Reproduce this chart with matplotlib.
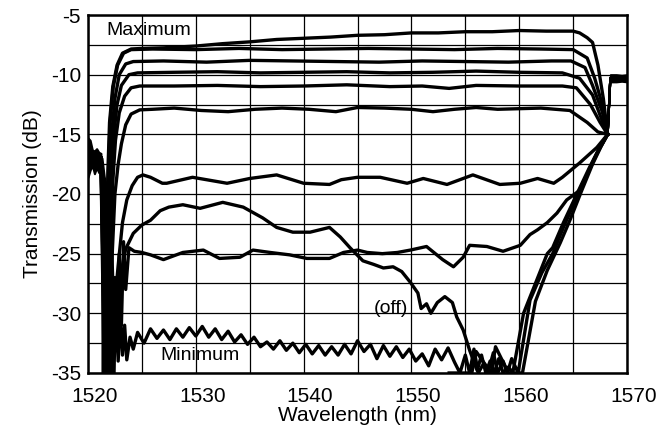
import matplotlib
matplotlib.use("Agg")
import matplotlib.pyplot as plt
from matplotlib.transforms import ScaledTranslation

plt.rcParams['font.family'] = ['Liberation Sans', 'DejaVu Sans']
plt.rcParams['axes.unicode_minus'] = False

# shared out-of-band pieces (left noise floor and right step)
left_wl = [1520.0, 1520.2, 1520.4, 1520.6, 1520.8, 1521.0, 1521.2]
left_hi = [-15.3, -15.5, -16.3, -16.4, -16.2, -16.5, -16.6]
left_lo = [-18.6, -18.0, -17.6, -18.3, -17.8, -18.2, -18.0]
block_wl = [1521.3, 1521.5, 1521.9, 1522.2, 1522.4]
block_hi = [-17.0, -18.5, -20.5, -24.0, -30.0]
block_lo = [-35.0, -35.0, -35.0, -35.0, -35.0]
step_wl = [1568.45, 1569.0, 1569.5, 1570.0]
step_hi = [-10.0, -10.0, -10.05, -10.0]
step_lo = [-10.6, -10.6, -10.55, -10.6]

# Maximum
wl_a = [1521.2, 1521.5, 1521.7, 1521.85, 1522.0, 1522.3, 1522.7, 1523.2, 1524.0, 1525.0, 1527.0,
        1530.0, 1532.5, 1535.0, 1537.5, 1540.0, 1542.5, 1545.0, 1547.5, 1550.0, 1552.5, 1555.0,
        1557.5, 1560.0, 1562.5, 1565.0, 1565.6, 1566.3, 1566.8, 1567.3, 1567.8, 1568.2]
db_a = [-17.0, -35.0, -25.0, -18.0, -14.0, -11.0, -9.2, -8.2, -7.85, -7.8, -7.75,
        -7.6, -7.4, -7.25, -7.05, -6.95, -6.85, -6.7, -6.65, -6.5, -6.5, -6.4,
        -6.4, -6.3, -6.35, -6.35, -6.5, -6.9, -7.3, -9.2, -12.0, -15.0]

wl_b = [1521.2, 1521.55, 1521.75, 1521.9, 1522.05, 1522.35, 1522.75, 1523.3, 1524.0, 1526.0,
        1530.0, 1534.0, 1538.0, 1542.0, 1546.0, 1550.0, 1554.0, 1558.0, 1562.0, 1565.0,
        1566.3, 1567.0, 1567.7, 1568.2]
db_b = [-17.0, -35.0, -25.0, -18.0, -14.0, -11.0, -9.2, -8.2, -7.9, -7.85,
        -7.9, -7.8, -7.9, -7.85, -7.8, -7.85, -7.9, -7.8, -7.85, -7.9,
        -8.6, -10.3, -12.5, -15.0]

wl_c = [1521.2, 1521.6, 1521.85, 1522.0, 1522.2, 1522.5, 1522.9, 1523.5, 1524.2, 1527.0,
        1531.0, 1535.0, 1539.0, 1543.0, 1547.0, 1551.0, 1555.0, 1559.0, 1563.0, 1564.8,
        1566.1, 1566.8, 1567.7, 1568.2]
db_c = [-17.0, -35.0, -25.0, -19.0, -15.0, -12.0, -10.0, -9.1, -8.9, -8.85,
        -8.95, -8.8, -8.85, -8.9, -8.95, -8.85, -8.9, -8.95, -8.85, -8.85,
        -9.4, -10.9, -13.1, -15.0]

wl_d = [1521.2, 1521.7, 1521.95, 1522.15, 1522.4, 1522.7, 1523.1, 1523.8, 1524.6, 1528.0,
        1532.0, 1536.0, 1540.0, 1544.0, 1548.0, 1552.0, 1556.0, 1560.0, 1564.0, 1565.6,
        1566.8, 1567.5, 1568.2]
db_d = [-17.0, -35.0, -25.0, -19.0, -15.0, -12.5, -10.9, -10.0, -9.85, -9.8,
        -9.75, -9.85, -9.8, -9.75, -9.85, -9.8, -9.7, -9.8, -9.85, -10.3,
        -11.7, -13.4, -15.0]

wl_e = [1521.2, 1521.8, 1522.05, 1522.3, 1522.55, 1522.9, 1523.4, 1524.0, 1524.8, 1528.0,
        1532.0, 1536.0, 1540.0, 1544.0, 1548.0, 1551.0, 1553.5, 1556.0, 1560.0, 1564.0,
        1565.3, 1566.6, 1567.5, 1568.2]
db_e = [-17.0, -35.0, -25.0, -19.0, -15.5, -13.2, -11.8, -11.1, -10.95, -10.95,
        -10.9, -11.0, -10.95, -10.85, -11.0, -10.95, -11.15, -10.9, -10.95, -10.95,
        -11.1, -12.5, -14.0, -15.0]

wl_f = [1521.2, 1521.9, 1522.2, 1522.5, 1522.8, 1523.1, 1523.5, 1524.0, 1524.8, 1526.0,
        1528.0, 1530.5, 1533.0, 1535.5, 1538.0, 1540.5, 1543.0, 1545.0, 1547.5, 1550.0,
        1552.0, 1554.0, 1556.0, 1558.0, 1560.0, 1562.0, 1564.7, 1566.3, 1567.3, 1568.2]
db_f = [-17.0, -35.0, -26.0, -20.0, -17.5, -15.8, -14.2, -13.3, -12.95, -12.9,
        -12.8, -13.0, -13.1, -12.9, -12.8, -12.9, -13.1, -12.75, -12.8, -12.9,
        -13.1, -12.9, -12.75, -12.9, -12.85, -12.8, -13.0, -14.0, -14.8, -15.0]

wl_g = [1521.2, 1522.0, 1522.4, 1522.8, 1523.2, 1523.6, 1524.1, 1524.6, 1525.1, 1525.8,
        1526.9, 1527.3, 1529.7, 1532.9, 1535.0, 1537.5, 1540.0, 1542.4, 1543.5, 1545.0,
        1547.1, 1549.6, 1551.1, 1553.3, 1555.7, 1558.2, 1560.1, 1561.7, 1563.2, 1564.0,
        1565.6, 1567.2, 1568.2]
db_g = [-17.0, -35.0, -30.0, -26.0, -22.4, -20.5, -19.3, -18.6, -18.4, -18.6,
        -19.1, -19.1, -18.6, -19.1, -18.7, -18.4, -19.1, -19.2, -18.8, -18.6,
        -18.6, -19.1, -18.7, -19.2, -18.4, -19.2, -19.1, -18.7, -19.1, -18.6,
        -17.4, -16.1, -15.0]

# (off) trace
wl_h = [1521.2, 1522.2, 1522.6, 1523.0, 1523.5, 1524.2, 1525.0, 1525.8, 1526.7, 1527.5,
        1528.8, 1530.4, 1532.5, 1534.4, 1536.2, 1537.5, 1539.0, 1540.6, 1542.4, 1543.4,
        1544.3, 1545.5, 1546.5, 1547.4, 1548.3, 1549.1, 1549.9, 1550.6, 1550.9, 1551.4,
        1551.8, 1552.4, 1553.1, 1553.8, 1554.2, 1554.8, 1555.4, 1556.1, 1556.5, 1556.9,
        1557.3, 1557.7, 1558.1, 1558.5, 1559.0, 1559.4, 1560.4, 1561.5, 1562.6, 1563.1,
        1564.1, 1565.4, 1566.5, 1567.4, 1568.2]
db_h = [-17.0, -35.0, -31.0, -27.0, -24.6, -23.3, -22.6, -22.2, -21.4, -21.1,
        -20.9, -21.2, -20.7, -21.1, -22.0, -22.8, -23.2, -23.2, -22.8, -23.6,
        -24.5, -25.6, -25.9, -26.2, -26.1, -26.5, -27.4, -28.3, -29.6, -29.2,
        -30.0, -29.1, -28.6, -29.1, -30.3, -31.4, -33.1, -34.8, -33.5, -35.0,
        -34.0, -35.0, -33.8, -35.0, -34.5, -35.0, -30.0, -27.5, -25.0, -24.5,
        -22.4, -19.9, -17.8, -16.2, -15.0]

wl_i = [1521.2, 1522.3, 1522.5, 1522.7, 1522.9, 1523.1, 1523.3, 1523.5, 1523.8, 1524.3,
        1525.0, 1525.8, 1527.0, 1528.8, 1530.7, 1532.2, 1534.1, 1535.3, 1536.9, 1538.7,
        1540.3, 1542.4, 1543.7, 1545.0, 1545.9, 1547.3, 1548.7, 1549.9, 1551.4, 1552.9,
        1553.9, 1554.8, 1555.4, 1557.0, 1558.5, 1560.1, 1561.0, 1561.7, 1562.6, 1563.5,
        1564.4, 1565.6, 1567.2, 1568.2]
db_i = [-17.0, -35.0, -27.0, -33.0, -25.0, -31.0, -24.0, -28.0, -24.5, -24.8,
        -24.9, -25.1, -25.5, -24.9, -24.7, -25.4, -25.3, -24.7, -24.9, -25.1,
        -25.4, -25.4, -24.9, -24.7, -24.9, -25.0, -24.9, -24.7, -24.4, -25.5,
        -26.1, -25.3, -24.3, -24.4, -24.8, -24.3, -23.4, -23.0, -22.4, -21.6,
        -20.5, -19.7, -16.6, -15.0]

# Minimum
wl_j = [1521.2, 1522.4, 1522.6, 1522.8, 1523.0, 1523.2, 1523.4, 1523.6, 1523.9, 1524.2,
        1524.6, 1525.2, 1525.8, 1526.4, 1527.0, 1527.6, 1528.2, 1528.8, 1529.4, 1530.0,
        1530.6, 1531.2, 1531.8, 1532.4, 1533.0, 1533.6, 1534.2, 1534.8, 1535.4, 1536.0,
        1536.6, 1537.2, 1537.8, 1538.4, 1539.0, 1539.6, 1540.2, 1540.8, 1541.4, 1542.0,
        1542.6, 1543.2, 1543.8, 1544.4, 1545.0, 1545.6, 1546.2, 1546.8, 1547.4, 1548.0,
        1548.6, 1549.2, 1549.8, 1550.4, 1551.0, 1551.6, 1552.2, 1552.8, 1553.4, 1554.0,
        1554.5, 1555.0, 1555.4, 1555.8, 1556.2, 1556.7, 1557.1, 1557.6, 1558.0, 1558.5,
        1558.9, 1559.3, 1559.9, 1561.0, 1562.1, 1563.1, 1564.1, 1565.6, 1566.7, 1567.5,
        1568.2]
db_j = [-17.0, -35.0, -29.0, -34.0, -30.0, -33.5, -31.0, -33.9, -32.0, -33.0,
        -31.6, -32.5, -31.3, -32.1, -31.4, -32.2, -31.3, -32.0, -31.2, -31.9,
        -31.1, -32.0, -31.3, -32.2, -31.5, -32.4, -31.8, -32.6, -32.0, -32.8,
        -32.4, -33.0, -32.3, -33.1, -32.5, -33.3, -32.6, -33.4, -32.7, -33.5,
        -32.8, -33.5, -32.6, -33.4, -32.3, -33.2, -32.6, -33.8, -32.7, -33.6,
        -32.8, -33.7, -33.0, -34.0, -33.4, -34.4, -33.0, -33.9, -32.9, -34.1,
        -35.0, -33.5, -35.0, -33.0, -35.0, -34.2, -35.0, -33.3, -35.0, -34.0,
        -35.0, -33.8, -35.0, -28.9, -26.6, -25.0, -22.8, -19.7, -17.6, -16.1,
        -15.0]

wl_k = [1553.5, 1555.6, 1556.0, 1557.4, 1557.8, 1559.0, 1560.3, 1561.5, 1562.6, 1563.8,
        1564.7, 1565.8, 1566.8, 1567.6, 1568.2]
db_k = [-35.0, -35.0, -33.2, -35.0, -32.8, -35.0, -35.0, -29.0, -26.4, -24.1,
        -22.2, -19.7, -17.5, -16.0, -15.0]

traces = [(wl_a, db_a), (wl_b, db_b), (wl_c, db_c), (wl_d, db_d), (wl_e, db_e), (wl_f, db_f),
          (wl_g, db_g), (wl_h, db_h), (wl_i, db_i), (wl_j, db_j), (wl_k, db_k)]

fig = plt.figure(figsize=(6.68, 4.34), dpi=100)
ax = fig.add_axes([0.1317, 0.1406, 0.807, 0.8248])

ax.fill_between(left_wl, left_lo, left_hi, color='black', lw=1.5)
ax.fill_between(block_wl, block_lo, block_hi, color='black', lw=1.5)
ax.fill_between(step_wl, step_lo, step_hi, color='black', lw=1.5)

for wl, db in traces:
    ax.plot(wl, db, color='black', lw=2.4, solid_joinstyle='round')
    # every trace jumps back up past the band edge
    ax.plot([wl[-1], 1568.45], [db[-1], -10.3], color='black', lw=1.6)

ax.set_xlim(1520, 1570)
ax.set_ylim(-35, -5)
ax.set_xticks([1520, 1530, 1540, 1550, 1560, 1570])
ax.set_yticks([-5, -10, -15, -20, -25, -30, -35])
ax.set_xticks([1525, 1535, 1545, 1555, 1565], minor=True)
ax.set_yticks([-7.5, -12.5, -17.5, -22.5, -27.5, -32.5], minor=True)
ax.grid(True, which='both', color='black', lw=0.9)
ax.tick_params(which='both', length=0, labelsize=15)
ax.tick_params(axis='x', pad=10)
ax.tick_params(axis='y', pad=5)
for g in ax.get_ygridlines():
    if abs(g.get_ydata()[0] + 20) < 0.01:
        g.set_color('#a8a8a8')
        g.set_lw(1.6)
for lab in ax.get_xticklabels():
    lab.set_transform(lab.get_transform() + ScaledTranslation(0.065, 0, fig.dpi_scale_trans))
for s in ax.spines.values():
    s.set_linewidth(1.8)

ax.set_xlabel('Wavelength (nm)', fontsize=15, labelpad=0)
ax.set_ylabel('Transmission (dB)', fontsize=15, labelpad=6)

ax.text(1525.6, -6.3, 'Maximum', fontsize=14, ha='center', va='center')
ax.text(1530.4, -33.5, 'Minimum', fontsize=14, ha='center', va='center')
ax.text(1548.1, -29.6, '(off)', fontsize=14, ha='center', va='center')

fig.savefig('out.png', dpi=100)
